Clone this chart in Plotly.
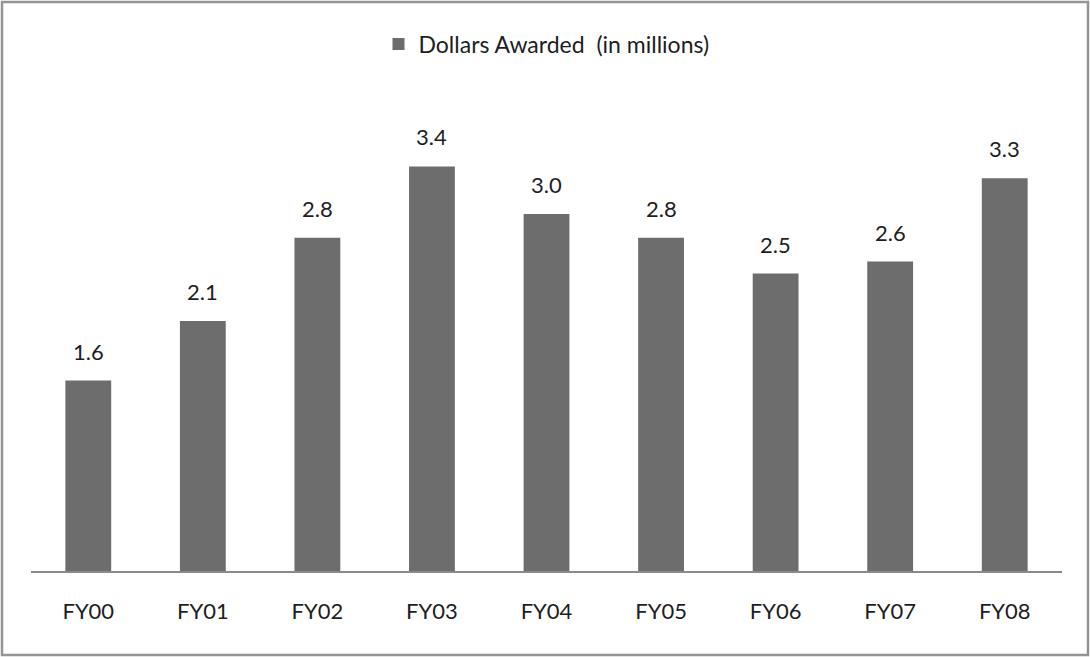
import plotly.graph_objects as go

categories = ["FY00", "FY01", "FY02", "FY03", "FY04", "FY05", "FY06", "FY07", "FY08"]
values = [1.6, 2.1, 2.8, 3.4, 3.0, 2.8, 2.5, 2.6, 3.3]
labels = ["1.6", "2.1", "2.8", "3.4", "3.0", "2.8", "2.5", "2.6", "3.3"]

W, H = 1090, 657
L, R, T, B = 31, 1062, 95, 571
FONT = "Lato"
TXT = "#1e1e1e"

def px(x):
    return (x - L) / (R - L)

def py(y):
    return (B - y) / (B - T)

fig = go.Figure()
fig.add_trace(go.Bar(
    x=categories, y=values, name="Dollars Awarded  (in millions)",
    marker=dict(color="#6D6D6D", line=dict(width=0)),
    showlegend=True,
))

annotations = [
    dict(x=c, y=v, xref="x", yref="y", text=t, showarrow=False,
         yanchor="bottom", yshift=14, font=dict(size=22, family=FONT, color=TXT))
    for c, v, t in zip(categories, values, labels)
]

fig.update_layout(
    width=W, height=H,
    margin=dict(l=L, r=W - R, t=T, b=H - B),
    paper_bgcolor="white", plot_bgcolor="white",
    font=dict(family=FONT, size=22, color=TXT),
    bargap=0.6,
    showlegend=True,
    legend=dict(orientation="h", x=0.5, xanchor="center", y=py(44), yanchor="middle",
                font=dict(size=23, family=FONT, color=TXT), itemwidth=30),
    xaxis=dict(showgrid=False, showline=True, linecolor="#8A8A8A", linewidth=1.5,
               ticks="", tickfont=dict(size=22), ticklabelstandoff=20),
    yaxis=dict(range=[0, 4], visible=False, showgrid=False),
    annotations=annotations,
    shapes=[dict(type="rect", xref="paper", yref="paper",
                 x0=px(2), x1=px(1088), y0=py(655), y1=py(2),
                 line=dict(color="#949494", width=2.5))],
)

fig.write_html("out.html", config={"displayModeBar": False},
               post_script="document.body.style.margin='0';document.body.style.overflow='hidden';")
